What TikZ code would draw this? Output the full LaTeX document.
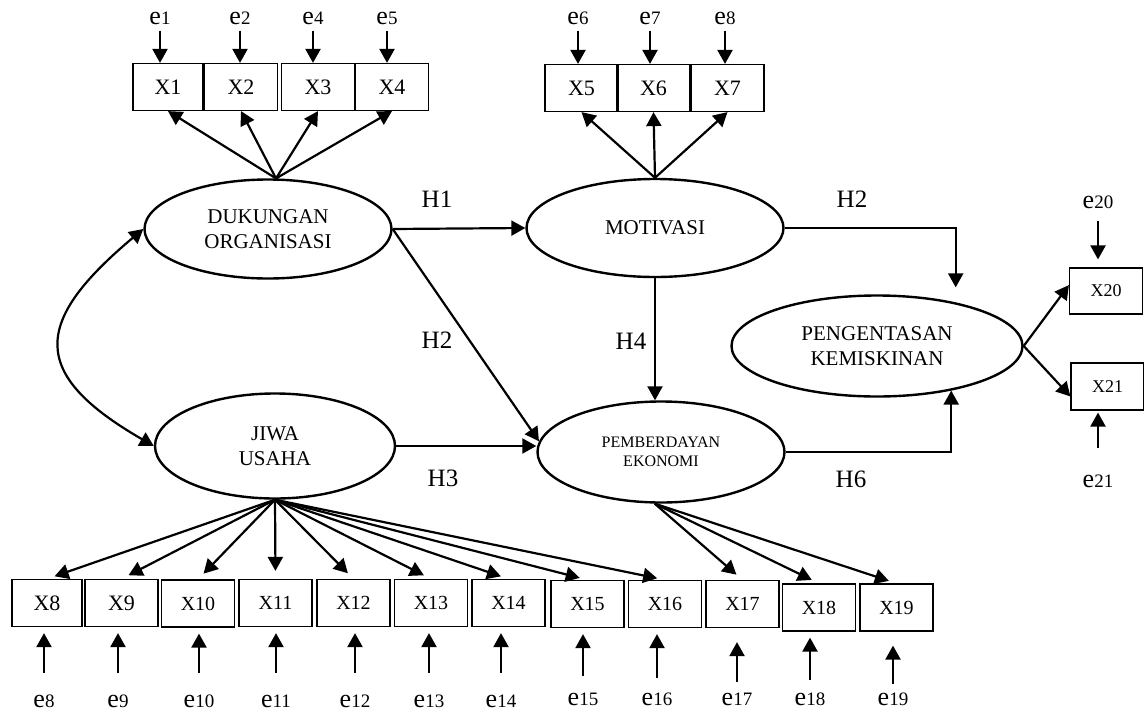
\documentclass[tikz,border=0pt]{standalone}
\usepackage{fontspec}
\setmainfont{Liberation Serif}
\usepackage{tikz}
\usetikzlibrary{shapes.geometric, arrows.meta, positioning, calc}
\newcommand{\errtxt}[1]{{\fontsize{13}{13}\selectfont e}{\fontsize{9.5}{9.5}\selectfont #1}}
\tikzset{
  latent/.style={ellipse, draw, line width=1.2pt, inner sep=0pt,
    align=center, font=\fontsize{10.5}{12.5}\selectfont},
  ind/.style={rectangle, draw, line width=0.6pt, minimum width=36.5pt,
    minimum height=23.5pt, inner sep=0pt, font=\fontsize{11}{11}\selectfont},
  indsm/.style={ind, font=\fontsize{10}{10}\selectfont},
  errlab/.style={inner sep=1pt, anchor=base},
  hlab/.style={font=\fontsize{12.5}{12.5}\selectfont},
  arrow/.style={-{Triangle[length=7pt,width=7.5pt]}, line width=1.1pt},
  darrow/.style={{Triangle[length=7pt,width=7.5pt]}-{Triangle[length=7pt,width=7.5pt]}, line width=1.1pt},
  errup/.style={arrow, shorten <=9.5pt, shorten >=3pt}
}

\begin{document}
\begin{tikzpicture}[x=0.5pt, y=-0.5pt]
  \useasboundingbox (0,0) rectangle (1144,712);

  % Latent variables
  \node[latent, minimum width=123.5pt, minimum height=49.5pt] (dk) at (268,229) {DUKUNGAN\\ORGANISASI};
  \node[latent, minimum width=120pt, minimum height=52.5pt] (jw) at (275,446) {JIWA\\USAHA};
  \node[latent, minimum width=128.5pt, minimum height=49pt] (mo) at (655,228) {MOTIVASI};
  \node[latent, minimum width=123.5pt, minimum height=50.5pt, font=\fontsize{8}{9.5}\selectfont] (pe) at (661,452) {PEMBERDAYAN\\EKONOMI};
  \node[latent, minimum width=145.5pt, minimum height=50.5pt] (pk) at (877,346) {PENGENTASAN\\KEMISKINAN};

  % Indicators
  \node[ind, minimum width=35pt] (x1) at (168,87) {X1};
  \node[ind] (x2) at (241,87) {X2};
  \node[ind] (x3) at (318,87) {X3};
  \node[ind] (x4) at (392,87) {X4};
  \node[ind] (x5) at (581.5,88) {X5};
  \node[ind] (x6) at (653.5,88) {X6};
  \node[ind] (x7) at (727.5,88) {X7};
  \node[ind, minimum width=35pt] (x8) at (47,603) {X8};
  \node[ind] (x9) at (121.5,603) {X9};
  \node[indsm] (x10) at (198,603.5) {X10};
  \node[indsm] (x11) at (275.5,603) {X11};
  \node[indsm] (x12) at (353.5,603) {X12};
  \node[indsm] (x13) at (431,603) {X13};
  \node[indsm] (x14) at (508.5,603) {X14};
  \node[indsm] (x15) at (587.5,604) {X15};
  \node[indsm] (x16) at (665,604) {X16};
  \node[indsm] (x17) at (742.5,604) {X17};
  \node[indsm] (x18) at (819,607.5) {X18};
  \node[indsm] (x19) at (896.5,607.5) {X19};
  \node[ind, minimum height=23pt, font=\fontsize{9}{9}\selectfont] (x20) at (1106,291) {X20};
  \node[ind, font=\fontsize{9}{9}\selectfont] (x21) at (1107.5,386.5) {X21};

  % Errors
  \node[errlab] (ex1) at (160,25) {\errtxt{1}};
  \node[errlab] (ex2) at (240,25) {\errtxt{2}};
  \node[errlab] (ex3) at (313,25) {\errtxt{4}};
  \node[errlab] (ex4) at (387,25) {\errtxt{5}};
  \node[errlab] (ex5) at (578,25) {\errtxt{6}};
  \node[errlab] (ex6) at (650,25) {\errtxt{7}};
  \node[errlab] (ex7) at (725,25) {\errtxt{8}};
  \node[errlab] (ex8) at (44,707) {\errtxt{8}};
  \node[errlab] (ex9) at (118,707) {\errtxt{9}};
  \node[errlab] (ex10) at (199,707) {\errtxt{10}};
  \node[errlab] (ex11) at (276,707) {\errtxt{11}};
  \node[errlab] (ex12) at (355,707) {\errtxt{12}};
  \node[errlab] (ex13) at (429,707) {\errtxt{13}};
  \node[errlab] (ex14) at (501,707) {\errtxt{14}};
  \node[errlab] (ex15) at (583,705) {\errtxt{15}};
  \node[errlab] (ex16) at (657,705) {\errtxt{16}};
  \node[errlab] (ex17) at (737,705) {\errtxt{17}};
  \node[errlab] (ex18) at (810,705) {\errtxt{18}};
  \node[errlab] (ex19) at (893,705) {\errtxt{19}};
  \node[errlab] (ex20) at (1098,208) {\errtxt{20}};
  \node[errlab] (ex21) at (1098,487) {\errtxt{21}};

  % Path labels
  \node[hlab] (h1) at (437,199) {H1};
  \node[hlab] (h2a) at (437,340) {H2};
  \node[hlab] (h3) at (443,478) {H3};
  \node[hlab] (h4) at (631,341) {H4};
  \node[hlab] (h2b) at (852,199) {H2};
  \node[hlab] (h6) at (851,479) {H6};

  % Loadings
  \draw[arrow] (dk.81) -- (x1.south);
  \draw[arrow] (dk.81) -- (x2.south);
  \draw[arrow] (dk.81) -- (x3.south);
  \draw[arrow] (dk.81) -- (x4.south);
  \draw[arrow] (mo.north) -- (x5.south);
  \draw[arrow] (mo.north) -- (x6.south);
  \draw[arrow] (mo.north) -- (x7.south);
  \draw[arrow, shorten >=4pt] (jw.south) -- (x8.north);
  \draw[arrow, shorten >=4pt] (jw.south) -- (x9.north);
  \draw[arrow, shorten >=4pt] (jw.south) -- (x10.north);
  \draw[arrow, shorten >=4pt] (jw.south) -- (x11.north);
  \draw[arrow, shorten >=4pt] (jw.south) -- (x12.north);
  \draw[arrow, shorten >=4pt] (jw.south) -- (x13.north);
  \draw[arrow, shorten >=4pt] (jw.south) -- (x14.north);
  \draw[arrow, shorten >=4pt] (jw.south) -- (x15.north);
  \draw[arrow, shorten >=4pt] (jw.south) -- (x16.north);
  \draw[arrow, shorten >=4pt] (pe.263) -- (x17.north);
  \draw[arrow, shorten >=4pt] (pe.263) -- (x18.north);
  \draw[arrow, shorten >=4pt] (pe.263) -- (x19.north);
  \draw[arrow] (pk.east) -- (x20.171);
  \draw[arrow] (pk.east) -- (x21.195);

  % Error arrows
  \draw[arrow, shorten <=1.5pt] (ex1) -- (ex1 |- x1.north);
  \draw[arrow, shorten <=1.5pt] (ex2) -- (ex2 |- x2.north);
  \draw[arrow, shorten <=1.5pt] (ex3) -- (ex3 |- x3.north);
  \draw[arrow, shorten <=1.5pt] (ex4) -- (ex4 |- x4.north);
  \draw[arrow, shorten <=1.5pt] (ex5) -- (ex5 |- x5.north);
  \draw[arrow, shorten <=1.5pt] (ex6) -- (ex6 |- x6.north);
  \draw[arrow, shorten <=1.5pt] (ex7) -- (ex7 |- x7.north);
  \draw[errup] (ex8) -- (ex8 |- x8.south);
  \draw[errup] (ex9) -- (ex9 |- x9.south);
  \draw[errup] (ex10) -- (ex10 |- x10.south);
  \draw[errup] (ex11) -- (ex11 |- x11.south);
  \draw[errup] (ex12) -- (ex12 |- x12.south);
  \draw[errup] (ex13) -- (ex13 |- x13.south);
  \draw[errup] (ex14) -- (ex14 |- x14.south);
  \draw[errup, shorten <=7pt] (ex15) -- (ex15 |- x15.south);
  \draw[errup, shorten <=6pt] (ex16) -- (ex16 |- x16.south);
  \draw[errup, shorten <=4pt, shorten >=7pt] (ex17) -- (ex17 |- x17.south);
  \draw[errup, shorten <=5pt] (ex18) -- (ex18 |- x18.south);
  \draw[errup, shorten <=3pt, shorten >=7pt] (ex19) -- (ex19 |- x19.south);
  \draw[arrow, shorten <=5pt, shorten >=4pt] (ex20) -- (ex20 |- x20.north);
  \draw[arrow, shorten <=12pt, shorten >=1pt] (ex21) -- (ex21 |- x21.south);

  % Structural paths
  \draw[darrow] (dk.west) to[out=220, in=150, looseness=1.7] (jw.west);
  \draw[arrow] (dk.east) -- (mo.west);
  \draw[arrow] (dk.east) -- (pe.175);
  \draw[arrow] (jw.east) -- (jw.east -| pe.west);
  \draw[arrow] (mo.south) -- (mo.south |- pe.north);
  \draw[arrow, shorten >=7.5pt] (mo.east) -| (pk.29);
  \draw[arrow] (pe.east) -| (pk.-31);
\end{tikzpicture}
\end{document}
